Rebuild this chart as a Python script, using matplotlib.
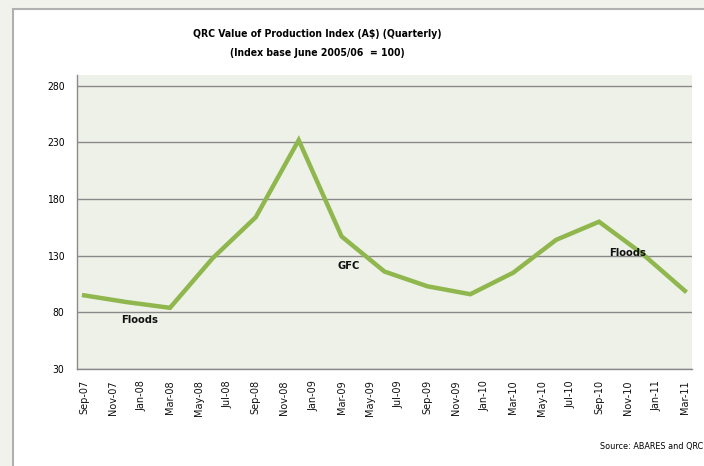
import matplotlib
matplotlib.use("Agg")
import matplotlib.pyplot as plt
from matplotlib.patches import Rectangle

# Data (quarterly values, x = months since Sep-07)
months = [0, 3, 6, 9, 12, 15, 18, 21, 24, 27, 30, 33, 36, 39, 42]
values = [95, 89, 84, 128, 164, 232, 147, 116, 103, 96, 115, 144, 160, 132, 99]
tick_labels = ["Sep-07", "Nov-07", "Jan-08", "Mar-08", "May-08", "Jul-08", "Sep-08",
               "Nov-08", "Jan-09", "Mar-09", "May-09", "Jul-09", "Sep-09", "Nov-09",
               "Jan-10", "Mar-10", "May-10", "Jul-10", "Sep-10", "Nov-10", "Jan-11", "Mar-11"]
tick_pos = list(range(0, 44, 2))
y_ticks = [30, 80, 130, 180, 230, 280]
annotations = [("Floods", 3.9, 73), ("GFC", 18.5, 121), ("Floods", 38.0, 132)]

W, H = 704, 466
fig = plt.figure(figsize=(W / 100, H / 100), dpi=100)
fig.patch.set_facecolor("#f2f2ec")

# white chart area with border
fig.patches.append(Rectangle((12.5 / W, -0.1), 1.2, 1.1 - 9.5 / H, transform=fig.transFigure,
                             facecolor="white", edgecolor="#b0b0b0", linewidth=1.5, zorder=-5))

narrow = ["Liberation Sans Narrow", "DejaVu Sans"]
cond = dict(family=narrow, stretch="condensed")

left, right, top, bottom = 77, 692, 75, 369
ax = fig.add_axes([left / W, 1 - bottom / H, (right - left) / W, (bottom - top) / H])
ax.set_zorder(2)
ax.set_facecolor("#eef1e8")

ax.plot(months, values, color="#8fb74d", linewidth=3.2, solid_joinstyle="miter", zorder=3)

ax.set_xlim(-0.5, 42.5)
ax.set_ylim(30, 289.5)
ax.set_yticks(y_ticks)
ax.set_yticklabels([str(v) for v in y_ticks], fontsize=7.5, **cond)
ax.set_xticks(tick_pos)
ax.set_xticklabels(tick_labels, rotation=90, fontsize=7, color="#111111")
ax.tick_params(axis="y", length=0, pad=9)
ax.tick_params(axis="x", length=0, pad=8)
ax.grid(axis="y", color="#8a8a8a", linewidth=1.0, zorder=1)
for s in ["top", "right"]:
    ax.spines[s].set_visible(False)
ax.spines["left"].set_color("#8a8a8a")
ax.spines["bottom"].set_color("#8a8a8a")
ax.spines["left"].set_linewidth(1.0)
ax.spines["bottom"].set_linewidth(1.0)

for txt, x, y in annotations:
    ax.text(x, y, txt, ha="center", va="center", fontsize=8, fontweight="bold",
            color="#111111", zorder=4, **cond)

fig.text(317 / W, 1 - 34 / H, "QRC Value of Production Index (A$) (Quarterly)",
         ha="center", va="center", fontsize=7.5, fontweight="bold", **cond)
fig.text(317 / W, 1 - 53 / H, "(Index base June 2005/06  = 100)",
         ha="center", va="center", fontsize=7.5, fontweight="bold", **cond)
fig.text(703 / W, 1 - 446 / H, "Source: ABARES and QRC", ha="right", va="center",
         fontsize=6.5, **cond)

fig.savefig("out.png", dpi=100, facecolor=fig.get_facecolor())
